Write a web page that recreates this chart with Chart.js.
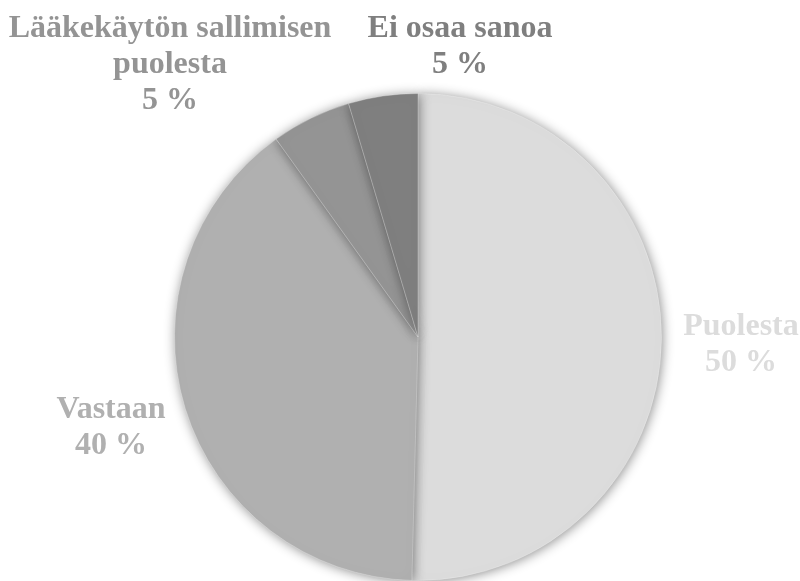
<!DOCTYPE html>
<html>
<head>
<meta charset="utf-8">
<script src="https://cdn.jsdelivr.net/npm/chart.js@4/dist/chart.umd.min.js"></script>
<style>
  html, body { margin: 0; padding: 0; background: #fff; }
  #wrap { width: 800px; height: 581px; }
</style>
</head>
<body>
<div id="wrap"><canvas id="pieChart" width="800" height="581"></canvas></div>
<script>
// data (clockwise from 12 o'clock)
const categories = ['Puolesta', 'Vastaan', 'Lääkekäytön sallimisen puolesta', 'Ei osaa sanoa'];
const shares = [50.4, 39.7, 5.3, 4.6];
const sliceColors = ['#dcdcdc', '#b0b0b0', '#949494', '#7f7f7f'];

// where Excel put each data label (centre x, first line y) and how it wrapped
const labelLines = [['Puolesta'], ['Vastaan'], ['Lääkekäytön sallimisen', 'puolesta'], ['Ei osaa sanoa']];
const labelAnchors = [[741, 327], [111, 410], [170, 29], [460, 29]];

const shadowPlugin = {
    id: 'pieShadow',
    beforeDatasetsDraw(chart) {
        const ctx = chart.ctx;
        ctx.save();
        ctx.shadowColor = 'rgba(0,0,0,0.45)';
        ctx.shadowBlur = 12;
        ctx.shadowOffsetX = 1;
        ctx.shadowOffsetY = 1;
    },
    afterDatasetsDraw(chart) {
        chart.ctx.restore();
    }
};

const labelPlugin = {
    id: 'sliceLabels',
    afterDraw(chart) {
        const ctx = chart.ctx;
        const values = chart.data.datasets[0].data;
        ctx.save();
        ctx.font = 'bold 32px "Liberation Serif", "Times New Roman", serif';
        ctx.textAlign = 'center';
        ctx.textBaseline = 'middle';
        values.forEach((v, i) => {
            const lines = labelLines[i].concat([Math.round(v) + ' %']);
            const [x, y] = labelAnchors[i];
            ctx.fillStyle = sliceColors[i];
            lines.forEach((line, j) => ctx.fillText(line, x, y + j * 36));
        });
        ctx.restore();
    }
};

new Chart(document.getElementById('pieChart').getContext('2d'), {
    type: 'pie',
    data: {
        labels: categories,
        datasets: [{
            data: shares,
            backgroundColor: sliceColors,
            borderColor: 'rgba(255,255,255,0.25)',
            borderWidth: 1
        }]
    },
    options: {
        responsive: false,
        animation: false,
        layout: { padding: { top: 93, bottom: 0, left: 174, right: 138 } },
        plugins: {
            legend: { display: false },
            tooltip: { enabled: false }
        }
    },
    plugins: [shadowPlugin, labelPlugin]
});
</script>
</body>
</html>
